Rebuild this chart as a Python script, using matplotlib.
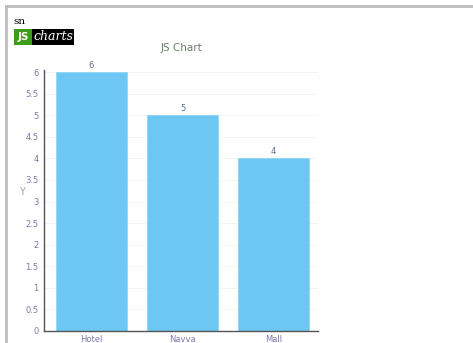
import matplotlib
matplotlib.use('Agg')
import matplotlib.pyplot as plt
from matplotlib.patches import Rectangle
from matplotlib.lines import Line2D

categories = ['Hotel', 'Navva', 'Mall']
values = [6, 5, 4]
yticks = [0, 0.5, 1, 1.5, 2, 2.5, 3, 3.5, 4, 4.5, 5, 5.5, 6]
ytick_labels = ['0', '0.5', '1', '1.5', '2', '2.5', '3', '3.5', '4', '4.5', '5', '5.5', '6']

W, H = 473, 343
fig = plt.figure(figsize=(W / 100, H / 100), dpi=100)

# outer frame (top and left only)
fig.add_artist(Line2D([5.5 / W, 5.5 / W], [0, 1 - 6 / H], transform=fig.transFigure,
                      color='#bdbdbd', lw=2))
fig.add_artist(Line2D([5.5 / W, 1], [1 - 6 / H, 1 - 6 / H], transform=fig.transFigure,
                      color='#bdbdbd', lw=2))

# "sn" and the logo
fig.text(13 / W, 1 - 22 / H, 'sn', family='DejaVu Serif', fontsize=7.5, color='black', va='center')
fig.add_artist(Rectangle((14 / W, 1 - 45 / H), 18 / W, 16 / H, transform=fig.transFigure,
                         color='#3f9c1a', lw=0))
fig.add_artist(Rectangle((32 / W, 1 - 45 / H), 42 / W, 16 / H, transform=fig.transFigure,
                         color='black', lw=0))
fig.text(23 / W, 1 - 37 / H, 'JS', fontsize=7.5, weight='bold', color='white',
         ha='center', va='center')
fig.text(53 / W, 1 - 37 / H, 'charts', family='DejaVu Serif', style='italic', fontsize=9,
         color='white', ha='center', va='center')

fig.text(181 / W, 1 - 48 / H, 'JS Chart', fontsize=7.5, color='#6b7f6b', ha='center', va='center')

ax = fig.add_axes([44 / W, 1 - 331 / H, 274 / W, 259 / H])
x = range(len(categories))
ax.bar(x, values, width=0.78, color='#6cc8f2', edgecolor='#8fd6f6', linewidth=0.6, zorder=2)
for xi, v in zip(x, values):
    ax.text(xi, v + 0.05, str(v), ha='center', va='bottom', fontsize=6, color='#5a6e8a')

ax.set_xlim(-0.522, 2.489)
ax.set_ylim(0, 6)
ax.set_yticks(yticks)
ax.set_yticklabels(ytick_labels)
ax.set_xticks(list(x))
ax.set_xticklabels(categories)
ax.tick_params(axis='both', length=0, labelsize=6, labelcolor='#7a7ab0', pad=3)
ax.tick_params(axis='y', pad=4)
ax.grid(axis='y', color='#f3f3f3', lw=0.6, zorder=0)
for s in ['top', 'right']:
    ax.spines[s].set_visible(False)
ax.spines['left'].set_color('#555555')
ax.spines['bottom'].set_color('#555555')
ax.spines['left'].set_linewidth(1)
ax.spines['bottom'].set_linewidth(1)
ax.spines['left'].set_bounds(0, 6.05)
ax.set_ylabel('Y', fontsize=7, color='#a0a0a8', rotation=0, ha='center', va='center')
ax.yaxis.set_label_coords(-22 / 274, 0.537)

fig.savefig('out.png', dpi=100)
